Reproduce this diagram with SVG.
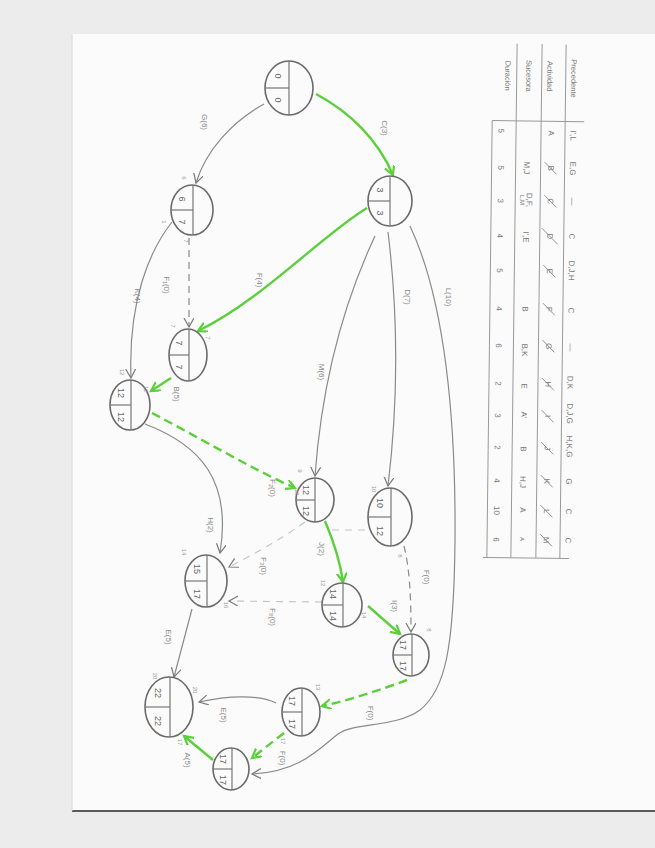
<svg xmlns="http://www.w3.org/2000/svg" width="655" height="848" viewBox="0 0 655 848">
<defs>
<marker id="ag" markerUnits="userSpaceOnUse" markerWidth="12" markerHeight="12" refX="9" refY="5" orient="auto"><path d="M0,0 L9,5 L0,10" fill="none" stroke="#5ccf3c" stroke-width="2.2"/></marker>
<marker id="ab" markerUnits="userSpaceOnUse" markerWidth="12" markerHeight="12" refX="9" refY="5" orient="auto"><path d="M0,0 L9,5 L0,10" fill="none" stroke="#7a7a7a" stroke-width="1.2"/></marker>
</defs>
<style>
.nd ellipse{fill:#fbfbfb;stroke:#6a6a6a;stroke-width:1.6}
.nd line{stroke:#777;stroke-width:1.2}
.v{font-family:"Liberation Sans",sans-serif;font-size:9px;fill:#666;text-anchor:middle;dominant-baseline:central}
.lb{font-family:"Liberation Sans",sans-serif;font-size:8px;fill:#888;text-anchor:middle;dominant-baseline:central}
.sm{font-family:"Liberation Sans",sans-serif;font-size:6px;fill:#999;text-anchor:middle;dominant-baseline:central}
.tb{font-family:"Liberation Sans",sans-serif;font-size:8px;fill:#777;text-anchor:middle;dominant-baseline:central}
.th{font-family:"Liberation Sans",sans-serif;font-size:7.5px;fill:#777;text-anchor:middle;dominant-baseline:central}
.g{fill:none;stroke:#8a8a8a;stroke-width:1.2}
.gl{fill:none;stroke:#c4c4c4;stroke-width:1.1;stroke-dasharray:7 6}
.gd{stroke-dasharray:7 5}
.gr{fill:none;stroke:#5ccf3c;stroke-width:2.4}
.grd{stroke-dasharray:9 5}
.tl{stroke:#999;stroke-width:1}
.sl{stroke:#888;stroke-width:0.9}
</style>
<rect x="0" y="0" width="655" height="848" fill="#ececec"/>
<rect x="72" y="34" width="583" height="777" fill="#fbfbfb"/>
<line x1="72" y1="811" x2="655" y2="811" stroke="#5a5a5a" stroke-width="2"/>
<line x1="72" y1="34" x2="72" y2="811" stroke="#d8d8d8" stroke-width="1"/>

<!-- table -->
<g id="table" transform="rotate(0.7 530 300)">
<line class="tl" x1="490" y1="121" x2="582" y2="121"/>
<line class="tl" x1="490" y1="121" x2="490" y2="558"/>
<line class="tl" x1="514" y1="44" x2="514" y2="558"/>
<line class="tl" x1="539" y1="44" x2="539" y2="558"/>
<line class="tl" x1="563" y1="44" x2="563" y2="558"/>
<line class="tl" x1="486" y1="558" x2="572" y2="558"/>
<text class="th" transform="translate(571 78) rotate(90)">Precedente</text>
<text class="th" transform="translate(547 76) rotate(90)">Actividad</text>
<text class="th" transform="translate(526 76) rotate(90)">Sucesora</text>
<text class="th" transform="translate(505 76) rotate(90)">Duración</text>
<g class="tb">
<text transform="translate(571 135) rotate(90)">I',L</text>
<text transform="translate(571 168) rotate(90)">E,G</text>
<text transform="translate(571 201) rotate(90)">—</text>
<text transform="translate(571 236) rotate(90)">C</text>
<text transform="translate(571 270) rotate(90)">D,J,H</text>
<text transform="translate(571 310) rotate(90)">C</text>
<text transform="translate(571 347) rotate(90)">—</text>
<text transform="translate(571 382) rotate(90)">D,K</text>
<text transform="translate(571 413) rotate(90)">D,J,G</text>
<text transform="translate(571 446) rotate(90)">H,K,G</text>
<text transform="translate(571 481) rotate(90)">G</text>
<text transform="translate(571 511) rotate(90)">C</text>
<text transform="translate(571 540) rotate(90)">C</text>
</g>
<g class="tb">
<text transform="translate(549 133) rotate(90)">A</text>
<text transform="translate(549 168) rotate(90)">B</text>
<text transform="translate(549 201) rotate(90)">C</text>
<text transform="translate(549 236) rotate(90)">D</text>
<text transform="translate(549 271) rotate(90)">E</text>
<text transform="translate(549 309) rotate(90)">F</text>
<text transform="translate(549 346) rotate(90)">G</text>
<text transform="translate(549 384) rotate(90)">H</text>
<text transform="translate(549 416) rotate(90)">I</text>
<text transform="translate(549 448) rotate(90)">J</text>
<text transform="translate(549 481) rotate(90)">K</text>
<text transform="translate(549 511) rotate(90)">L</text>
<text transform="translate(549 540) rotate(90)">M</text>
</g>
<g class="sl">
<line x1="543" y1="162" x2="555" y2="174"/>
<line x1="543" y1="195" x2="555" y2="207"/>
<line x1="541" y1="228" x2="557" y2="244"/>
<line x1="543" y1="265" x2="555" y2="277"/>
<line x1="543" y1="303" x2="555" y2="315"/>
<line x1="543" y1="340" x2="555" y2="352"/>
<line x1="543" y1="378" x2="555" y2="390"/>
<line x1="543" y1="410" x2="555" y2="422"/>
<line x1="543" y1="442" x2="555" y2="454"/>
<line x1="543" y1="475" x2="555" y2="487"/>
<line x1="543" y1="505" x2="555" y2="517"/>
<line x1="543" y1="534" x2="555" y2="546"/>
</g>
<g class="tb">
<text transform="translate(525 168) rotate(90)">M,J</text>
<text transform="translate(528 200) rotate(90)">D,F,</text>
<text transform="translate(521 200) rotate(90)" style="font-size:6px">L,M</text>
<text transform="translate(525 237) rotate(90)">I',E</text>
<text transform="translate(525 309) rotate(90)">B</text>
<text transform="translate(525 350) rotate(90)">B,K</text>
<text transform="translate(525 386) rotate(90)">E</text>
<text transform="translate(525 415) rotate(90)">A'</text>
<text transform="translate(525 449) rotate(90)">B</text>
<text transform="translate(525 482) rotate(90)">H,J</text>
<text transform="translate(525 510) rotate(90)">A</text>
<text transform="translate(525 539) rotate(90)" style="font-size:6px">A</text>
</g>
<g class="tb">
<text transform="translate(499 131) rotate(90)">5</text>
<text transform="translate(499 168) rotate(90)">5</text>
<text transform="translate(499 201) rotate(90)">3</text>
<text transform="translate(499 236) rotate(90)">4</text>
<text transform="translate(499 271) rotate(90)">5</text>
<text transform="translate(499 309) rotate(90)">4</text>
<text transform="translate(499 346) rotate(90)">6</text>
<text transform="translate(499 384) rotate(90)">2</text>
<text transform="translate(499 416) rotate(90)">3</text>
<text transform="translate(499 448) rotate(90)">2</text>
<text transform="translate(499 481) rotate(90)">4</text>
<text transform="translate(499 511) rotate(90)">10</text>
<text transform="translate(499 540) rotate(90)">6</text>
</g>
</g>

<!-- connectors -->
<g id="connectors">
<path class="gl" d="M322,602 L229,601" marker-end="url(#ab)"/>
<path class="gl" d="M305,522 C280,540 252,555 229,567" marker-end="url(#ab)"/>
<path class="gl" d="M332,530 L365,530"/>
<path class="gr" d="M316,94 C350,112 378,140 393,175" marker-end="url(#ag)"/>
<path class="g" d="M264,104 C232,122 206,150 196,183" marker-end="url(#ab)"/>
<path class="g gd" d="M189,238 L189,327" marker-end="url(#ab)"/>
<path class="gr" d="M367,208 C322,235 262,300 198,331" marker-end="url(#ag)"/>
<path class="gr" d="M171,378 L151,391" marker-end="url(#ag)"/>
<path class="g" d="M172,222 C150,250 128,300 131,378" marker-end="url(#ab)"/>
<path class="gr grd" d="M152,413 C200,438 250,468 295,488" marker-end="url(#ag)"/>
<path class="g" d="M145,424 C200,445 232,480 220,553" marker-end="url(#ab)"/>
<path class="g" d="M375,236 C345,300 322,380 315,476" marker-end="url(#ab)"/>
<path class="g" d="M388,232 C400,330 396,420 388,486" marker-end="url(#ab)"/>
<path class="g" d="M410,226 C445,300 456,420 455,540 C454,650 445,690 420,710 C395,728 355,722 338,734 C320,748 300,772 252,774" marker-end="url(#ab)"/>
<path class="gr" d="M325,521 C333,540 340,560 343,582" marker-end="url(#ag)"/>
<path class="g gd" d="M404,546 C410,570 411,600 411,632" marker-end="url(#ab)"/>
<path class="gr" d="M368,606 L400,634" marker-end="url(#ag)"/>
<path class="gr grd" d="M407,680 C380,690 350,700 322,706" marker-end="url(#ag)"/>
<path class="gr grd" d="M284,733 L252,758" marker-end="url(#ag)"/>
<path class="g" d="M276,703 C260,695 230,695 199,702" marker-end="url(#ab)"/>
<path class="g" d="M192,609 L174,677" marker-end="url(#ab)"/>
<path class="gr" d="M213,760 L184,736" marker-end="url(#ag)"/>
<g class="lb">
<text transform="translate(384 128) rotate(90)">C(3)</text>
<text transform="translate(204 122) rotate(90)">G(6)</text>
<text transform="translate(166 285) rotate(90)">F₁(0)</text>
<text transform="translate(259 280) rotate(90)">F(4)</text>
<text transform="translate(176 394) rotate(90)">B(5)</text>
<text transform="translate(137 296) rotate(90)">K(4)</text>
<text transform="translate(272 488) rotate(90)">F₂(0)</text>
<text transform="translate(210 525) rotate(90)">H(2)</text>
<text transform="translate(321 372) rotate(90)">M(6)</text>
<text transform="translate(407 297) rotate(90)">D(7)</text>
<text transform="translate(448 297) rotate(90)">L(10)</text>
<text transform="translate(321 549) rotate(90)">J(2)</text>
<text transform="translate(426 577) rotate(90)">F(0)</text>
<text transform="translate(394 606) rotate(90)">I(3)</text>
<text transform="translate(370 713) rotate(90)">F(0)</text>
<text transform="translate(282 758) rotate(90)">F(0)</text>
<text transform="translate(223 715) rotate(90)">E(5)</text>
<text transform="translate(168 637) rotate(90)">E(5)</text>
<text transform="translate(187 760) rotate(90)">A(5)</text>
<text transform="translate(272 617) rotate(90)">F₈(0)</text>
<text transform="translate(263 566) rotate(90)">F₃(0)</text>
</g>
</g>

<!-- nodes -->
<g id="n1" class="nd"><ellipse cx="289" cy="88" rx="24" ry="27"/><line x1="289" y1="61" x2="289" y2="115"/><line x1="265" y1="88" x2="289" y2="88"/><text class="v" transform="translate(278 76) rotate(90)">0</text><text class="v" transform="translate(278 100) rotate(90)">0</text></g>
<g id="n2" class="nd"><ellipse cx="390" cy="201" rx="22" ry="25"/><line x1="390" y1="176" x2="390" y2="226"/><line x1="368" y1="201" x2="390" y2="201"/><text class="v" transform="translate(380 190) rotate(90)">3</text><text class="v" transform="translate(380 213) rotate(90)">3</text></g>
<g id="n3" class="nd"><ellipse cx="192" cy="210" rx="21" ry="25"/><line x1="193" y1="185" x2="193" y2="235"/><line x1="171" y1="210" x2="193" y2="210"/><text class="v" transform="translate(182 199) rotate(90)">6</text><text class="v" transform="translate(182 222) rotate(90)">7</text></g>
<g id="n4" class="nd"><ellipse cx="188" cy="355" rx="19" ry="26"/><line x1="189" y1="329" x2="189" y2="381"/><line x1="169" y1="355" x2="189" y2="355"/><text class="v" transform="translate(179 343) rotate(90)">7</text><text class="v" transform="translate(179 367) rotate(90)">7</text></g>
<g id="n5" class="nd"><ellipse cx="130" cy="405" rx="20" ry="25"/><line x1="131" y1="380" x2="131" y2="430"/><line x1="110" y1="405" x2="131" y2="405"/><text class="v" transform="translate(121 393) rotate(90)">12</text><text class="v" transform="translate(121 417) rotate(90)">12</text></g>
<g id="n6" class="nd"><ellipse cx="315" cy="500" rx="19" ry="22"/><line x1="315" y1="478" x2="315" y2="522"/><line x1="296" y1="500" x2="315" y2="500"/><text class="v" transform="translate(306 490) rotate(90)">12</text><text class="v" transform="translate(306 511) rotate(90)">12</text></g>
<g id="n7" class="nd"><ellipse cx="390" cy="517" rx="22" ry="29"/><line x1="391" y1="488" x2="391" y2="546"/><line x1="368" y1="517" x2="391" y2="517"/><text class="v" transform="translate(380 503) rotate(90)">10</text><text class="v" transform="translate(380 531) rotate(90)">12</text></g>
<g id="n8" class="nd"><ellipse cx="342" cy="605" rx="20" ry="22"/><line x1="343" y1="583" x2="343" y2="627"/><line x1="322" y1="605" x2="343" y2="605"/><text class="v" transform="translate(333 594) rotate(90)">14</text><text class="v" transform="translate(333 616) rotate(90)">14</text></g>
<g id="n9" class="nd"><ellipse cx="411" cy="655" rx="18" ry="21"/><line x1="412" y1="634" x2="412" y2="676"/><line x1="393" y1="655" x2="412" y2="655"/><text class="v" transform="translate(403 645) rotate(90)">17</text><text class="v" transform="translate(403 666) rotate(90)">17</text></g>
<g id="n10" class="nd"><ellipse cx="206" cy="581" rx="21" ry="26"/><line x1="207" y1="555" x2="207" y2="607"/><line x1="185" y1="581" x2="207" y2="581"/><text class="v" transform="translate(197 569) rotate(90)">15</text><text class="v" transform="translate(197 594) rotate(90)">17</text></g>
<g id="n11" class="nd"><ellipse cx="301" cy="712" rx="19" ry="24"/><line x1="302" y1="688" x2="302" y2="736"/><line x1="282" y1="712" x2="302" y2="712"/><text class="v" transform="translate(292 701) rotate(90)">17</text><text class="v" transform="translate(292 724) rotate(90)">17</text></g>
<g id="n12" class="nd"><ellipse cx="231" cy="769" rx="18" ry="21"/><line x1="232" y1="748" x2="232" y2="790"/><line x1="213" y1="769" x2="232" y2="769"/><text class="v" transform="translate(223 759) rotate(90)">17</text><text class="v" transform="translate(223 780) rotate(90)">17</text></g>
<g id="n13" class="nd"><ellipse cx="169" cy="707" rx="24" ry="30"/><line x1="170" y1="677" x2="170" y2="737"/><line x1="145" y1="707" x2="170" y2="707"/><text class="v" transform="translate(158 693) rotate(90)">22</text><text class="v" transform="translate(158 721) rotate(90)">22</text></g>

<g class="sm">
<text transform="translate(184 178) rotate(90)">6</text>
<text transform="translate(164 222) rotate(90)">1</text>
<text transform="translate(186 241) rotate(90)">7</text>
<text transform="translate(173 326) rotate(90)">7</text>
<text transform="translate(208 338) rotate(90)">7</text>
<text transform="translate(122 372) rotate(90)">12</text>
<text transform="translate(146 389) rotate(90)">12</text>
<text transform="translate(300 471) rotate(90)">9</text>
<text transform="translate(297 492) rotate(90)">12</text>
<text transform="translate(374 489) rotate(90)">10</text>
<text transform="translate(400 556) rotate(90)">8</text>
<text transform="translate(323 583) rotate(90)">12</text>
<text transform="translate(364 615) rotate(90)">14</text>
<text transform="translate(429 630) rotate(90)">8</text>
<text transform="translate(184 552) rotate(90)">14</text>
<text transform="translate(226 605) rotate(90)">16</text>
<text transform="translate(155 676) rotate(90)">20</text>
<text transform="translate(195 690) rotate(90)">20</text>
<text transform="translate(180 742) rotate(90)">17</text>
<text transform="translate(318 687) rotate(90)">13</text>
<text transform="translate(283 741) rotate(90)">17</text>
</g>
</svg>
